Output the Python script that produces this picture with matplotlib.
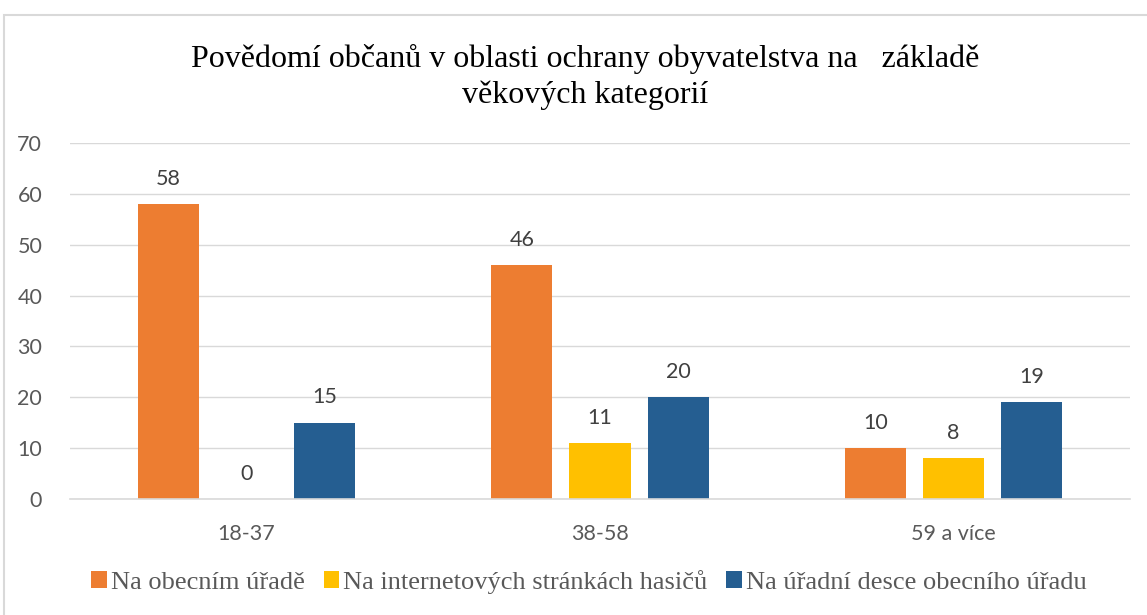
import numpy as np
import matplotlib.pyplot as plt
from matplotlib.patches import Rectangle

# data
categories = ['18-37', '38-58', '59 a více']
series_names = ['Na obecním úřadě', 'Na internetových stránkách hasičů',
                'Na úřadní desce obecního úřadu']
obecni_urad = [58, 46, 10]
internet_hasici = [0, 11, 8]
uredni_deska = [15, 20, 19]
colors = ['#ED7D31', '#FFC000', '#255E91']

title = 'Povědomí občanů v oblasti ochrany obyvatelstva na   základě\nvěkových kategorií'

fig = plt.figure(figsize=(11.47, 6.15), dpi=100)
# light chart-area border
fig.patches.append(Rectangle((4 / 1147, -0.1), 1.2, 1 - 15 / 615 + 0.1,
                             transform=fig.transFigure, fill=False,
                             edgecolor='#D9D9D9', linewidth=1.5))

ax = fig.add_axes([70 / 1147, 1 - 499 / 615, 1060 / 1147, 356 / 615])

x = np.arange(len(categories))
width = 0.173
step = 0.221
all_series = [obecni_urad, internet_hasici, uredni_deska]
for i, vals in enumerate(all_series):
    bars = ax.bar(x + (i - 1) * step, vals, width, color=colors[i],
                  label=series_names[i], zorder=2)
    for b, v in zip(bars, vals):
        ax.text(b.get_x() + b.get_width() / 2, v + 5.0, str(v),
                ha='center', va='center', fontsize=15.5, color='#404040',
                family='Lato')

ax.set_xlim(-0.5, 2.5)
ax.set_ylim(0, 70)
ax.set_yticks(range(0, 71, 10))
ax.grid(axis='y', color='#D9D9D9', linewidth=1, zorder=0)
for s in ['top', 'right', 'left']:
    ax.spines[s].set_visible(False)
ax.spines['bottom'].set_color('#D9D9D9')
ax.spines['bottom'].set_linewidth(1.2)
ax.tick_params(length=0)
ax.set_xticks(x)
ax.set_xticklabels(categories)
ax.tick_params(axis='x', pad=18)
ax.tick_params(axis='y', pad=20)
for lab in ax.get_xticklabels() + ax.get_yticklabels():
    lab.set_family('Lato')
    lab.set_fontsize(15.5)
    lab.set_color('#595959')

fig.text(585 / 1147, 1 - 77 / 615, title, ha='center', va='center',
         family='Liberation Serif', fontsize=23, linespacing=1.3)

fig.legend(loc='center', bbox_to_anchor=(589 / 1147, 1 - 582 / 615), ncol=3,
           frameon=False, handlelength=0.6, handleheight=0.6,
           handletextpad=0.15, columnspacing=0.7,
           prop={'family': 'Liberation Serif', 'size': 19},
           labelcolor='#595959')

fig.savefig('out.png', dpi=100)
